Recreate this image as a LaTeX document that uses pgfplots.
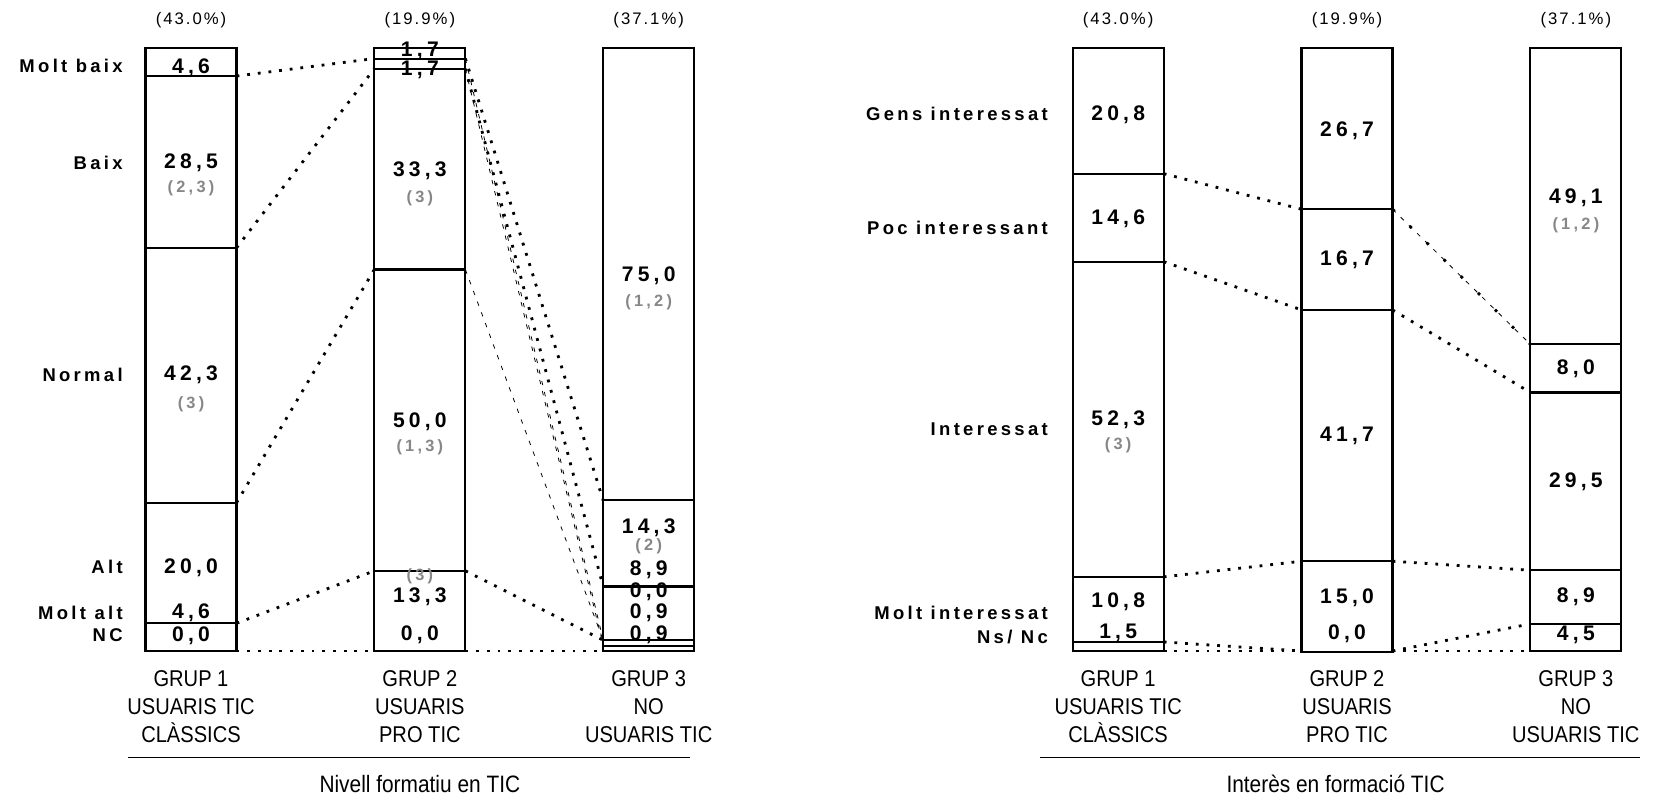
\documentclass[border=0pt]{standalone}
\usepackage{fontspec}
\setmainfont{Liberation Sans}
\newfontfamily\narrowfont[FakeStretch=0.88]{Liberation Sans}
\newfontfamily\valfont[LetterSpace=20]{Liberation Sans}
\newfontfamily\catfont[LetterSpace=18]{Liberation Sans}
\newfontfamily\hdrfont[LetterSpace=12]{Liberation Sans}
\usepackage{pgfplots}
\pgfplotsset{compat=1.18}

\definecolor{refgrey}{RGB}{135,135,135}

\tikzset{
  val/.style={font=\fontsize{12}{14}\valfont\bfseries, inner sep=0pt},
  sub/.style={font=\fontsize{9.3}{11}\valfont\bfseries, text=refgrey, inner sep=0pt},
  cat/.style={font=\fontsize{10.5}{12}\catfont\bfseries, anchor=east, inner sep=0pt},
  hdr/.style={font=\fontsize{9.5}{11}\hdrfont, inner sep=0pt},
  grp/.style={font=\fontsize{13}{16.1}\narrowfont, align=center, inner sep=0pt},
  ttl/.style={font=\fontsize{13.5}{15}\narrowfont, inner sep=0pt},
  dotA/.style={black, line width=1.6pt, dash pattern=on 1.6pt off 4.5pt},
  thinD/.style={black, line width=0.45pt, dash pattern=on 2.5pt off 4pt},
}

\pgfplotsset{
  panel/.style={scale only axis, width=119.0mm, height=120.54mm,
    xmin=0.7, xmax=3.3, ymin=0, ymax=100, y dir=reverse,
    axis lines=none, ticks=none, clip=false, anchor=center},
  seg/.style={fill=white, draw=black, line width=1.2pt},
}

\begin{document}
\begin{tikzpicture}
\useasboundingbox (0,0) rectangle (333.4mm,-159.8mm);

% ---------- Nivell formatiu en TIC ----------
\begin{axis}[panel, at={(83.97mm,-69.93mm)}, ybar stacked, bar width=18.2mm]
\addplot[seg] coordinates {(1,4.6)  (2,1.7)  (3,75.0)};
\addplot[seg] coordinates {(1,28.5) (2,1.7)  (3,14.3)};
\addplot[seg] coordinates {(1,42.3) (2,33.3) (3,8.9)};
\addplot[seg] coordinates {(1,20.0) (2,50.0) (3,0.0)};
\addplot[seg] coordinates {(1,4.6)  (2,13.3) (3,0.9)};
\addplot[seg] coordinates {(1,0.0)  (2,0.0)  (3,0.9)};
\end{axis}

\begin{axis}[panel, at={(83.97mm,-69.93mm)}]
% grup 1 -> grup 2
\addplot[dotA] coordinates {(1.199,4.6) (1.801,1.7)};
\addplot[dotA] coordinates {(1.199,33.1) (1.801,3.4)};
\addplot[dotA] coordinates {(1.199,75.4) (1.801,36.7)};
\addplot[dotA] coordinates {(1.199,95.4) (1.801,86.7)};
\addplot[dotA] coordinates {(1.199,100) (1.801,100)};
% grup 2 -> grup 3
\addplot[dotA] coordinates {(2.199,1.7) (2.801,75.0)};
\addplot[dotA] coordinates {(2.199,3.4) (2.801,89.3)};
\addplot[thinD] coordinates {(2.199,1.7) (2.801,98.2)};
\addplot[thinD] coordinates {(2.199,3.4) (2.801,99.1)};
\addplot[thinD] coordinates {(2.199,36.7) (2.801,98.2)};
\addplot[dotA] coordinates {(2.199,86.7) (2.801,98.2)};
\addplot[dotA] coordinates {(2.199,100) (2.801,100)};

\node[hdr] at (axis cs:1,-4.6) {(43.0\%)};
\node[hdr] at (axis cs:2,-4.6) {(19.9\%)};
\node[hdr] at (axis cs:3,-4.6) {(37.1\%)};

\node[cat] at (axis cs:0.703,2.9)  {Molt baix};
\node[cat] at (axis cs:0.703,19.0) {Baix};
\node[cat] at (axis cs:0.703,54.2) {Normal};
\node[cat] at (axis cs:0.703,86.1) {Alt};
\node[cat] at (axis cs:0.703,93.6) {Molt alt};
\node[cat] at (axis cs:0.703,97.3) {NC};

\node[val] at (axis cs:1,3.3)  {4,6};
\node[val] at (axis cs:1,19.0) {28,5};
\node[sub] at (axis cs:1,23.3) {(2,3)};
\node[val] at (axis cs:1,54.2) {42,3};
\node[sub] at (axis cs:1,59.0) {(3)};
\node[val] at (axis cs:1,86.2) {20,0};
\node[val] at (axis cs:1,93.7) {4,6};
\node[val] at (axis cs:1,97.4) {0,0};

\node[val] at (axis cs:2,0.4)  {1,7};
\node[val] at (axis cs:2,3.6)  {1,7};
\node[val] at (axis cs:2,20.3) {33,3};
\node[sub] at (axis cs:2,24.8) {(3)};
\node[val] at (axis cs:2,62.0) {50,0};
\node[sub] at (axis cs:2,66.2) {(1,3)};
\node[sub] at (axis cs:2,87.6) {(3)};
\node[val] at (axis cs:2,91.0) {13,3};
\node[val] at (axis cs:2,97.3) {0,0};

\node[val] at (axis cs:3,37.7) {75,0};
\node[sub] at (axis cs:3,42.2) {(1,2)};
\node[val] at (axis cs:3,79.6) {14,3};
\node[sub] at (axis cs:3,82.7) {(2)};
\node[val] at (axis cs:3,86.6) {8,9};
\node[val] at (axis cs:3,90.2) {0,0};
\node[val] at (axis cs:3,93.7) {0,9};
\node[val] at (axis cs:3,97.3) {0,9};

\node[grp] at (axis cs:1,109.2) {GRUP 1\\USUARIS TIC\\CLÀSSICS};
\node[grp] at (axis cs:2,109.2) {GRUP 2\\USUARIS\\PRO TIC};
\node[grp] at (axis cs:3,109.2) {GRUP 3\\NO\\USUARIS TIC};
\draw[line width=0.9pt] (axis cs:0.725,117.7) -- (axis cs:3.18,117.7);
\node[ttl] at (axis cs:2.0,122.0) {Nivell formatiu en TIC};
\end{axis}

% ---------- Interes en formacio TIC ----------
\begin{axis}[panel, at={(269.4mm,-69.93mm)}, ybar stacked, bar width=18.2mm]
\addplot[seg] coordinates {(1,20.8) (2,26.7) (3,49.1)};
\addplot[seg] coordinates {(1,14.6) (2,16.7) (3,8.0)};
\addplot[seg] coordinates {(1,52.3) (2,41.7) (3,29.5)};
\addplot[seg] coordinates {(1,10.8) (2,15.0) (3,8.9)};
\addplot[seg] coordinates {(1,1.5)  (2,0.0)  (3,4.5)};
\end{axis}

\begin{axis}[panel, at={(269.4mm,-69.93mm)}]
\addplot[dotA] coordinates {(1.199,20.8) (1.801,26.7)};
\addplot[dotA] coordinates {(1.199,35.4) (1.801,43.4)};
\addplot[dotA] coordinates {(1.199,87.7) (1.801,85.1)};
\addplot[dotA] coordinates {(1.199,98.5) (1.801,100)};
\addplot[dotA] coordinates {(1.199,100) (1.801,100)};
\addplot[thinD] coordinates {(2.199,26.7) (2.801,49.1)};
\addplot[black, line width=1.6pt, dash pattern=on 1.6pt off 12pt] coordinates {(2.199,26.7) (2.801,49.1)};
\addplot[dotA] coordinates {(2.199,43.4) (2.801,57.1)};
\addplot[dotA] coordinates {(2.199,85.1) (2.801,86.6)};
\addplot[dotA] coordinates {(2.199,100) (2.801,95.5)};
\addplot[dotA] coordinates {(2.199,100) (2.801,100)};

\node[hdr] at (axis cs:1,-4.6) {(43.0\%)};
\node[hdr] at (axis cs:2,-4.6) {(19.9\%)};
\node[hdr] at (axis cs:3,-4.6) {(37.1\%)};

\node[cat] at (axis cs:0.694,10.9) {Gens interessat};
\node[cat] at (axis cs:0.694,29.8) {Poc interessant};
\node[cat] at (axis cs:0.694,63.2) {Interessat};
\node[cat] at (axis cs:0.694,93.7) {Molt interessat};
\node[cat] at (axis cs:0.694,97.6) {Ns/ Nc};

\node[val] at (axis cs:1,11.0) {20,8};
\node[val] at (axis cs:1,28.2) {14,6};
\node[val] at (axis cs:1,61.6) {52,3};
\node[sub] at (axis cs:1,65.8) {(3)};
\node[val] at (axis cs:1,91.8) {10,8};
\node[val] at (axis cs:1,97.0) {1,5};

\node[val] at (axis cs:2,13.6) {26,7};
\node[val] at (axis cs:2,35.1) {16,7};
\node[val] at (axis cs:2,64.3) {41,7};
\node[val] at (axis cs:2,91.2) {15,0};
\node[val] at (axis cs:2,97.1) {0,0};

\node[val] at (axis cs:3,24.8) {49,1};
\node[sub] at (axis cs:3,29.4) {(1,2)};
\node[val] at (axis cs:3,53.2) {8,0};
\node[val] at (axis cs:3,72.0) {29,5};
\node[val] at (axis cs:3,91.0) {8,9};
\node[val] at (axis cs:3,97.3) {4,5};

\node[grp] at (axis cs:1,109.2) {GRUP 1\\USUARIS TIC\\CLÀSSICS};
\node[grp] at (axis cs:2,109.2) {GRUP 2\\USUARIS\\PRO TIC};
\node[grp] at (axis cs:3,109.2) {GRUP 3\\NO\\USUARIS TIC};
\draw[line width=0.9pt] (axis cs:0.66,117.7) -- (axis cs:3.28,117.7);
\node[ttl] at (axis cs:1.95,122.0) {Interès en formació TIC};
\end{axis}
\end{tikzpicture}
\end{document}
